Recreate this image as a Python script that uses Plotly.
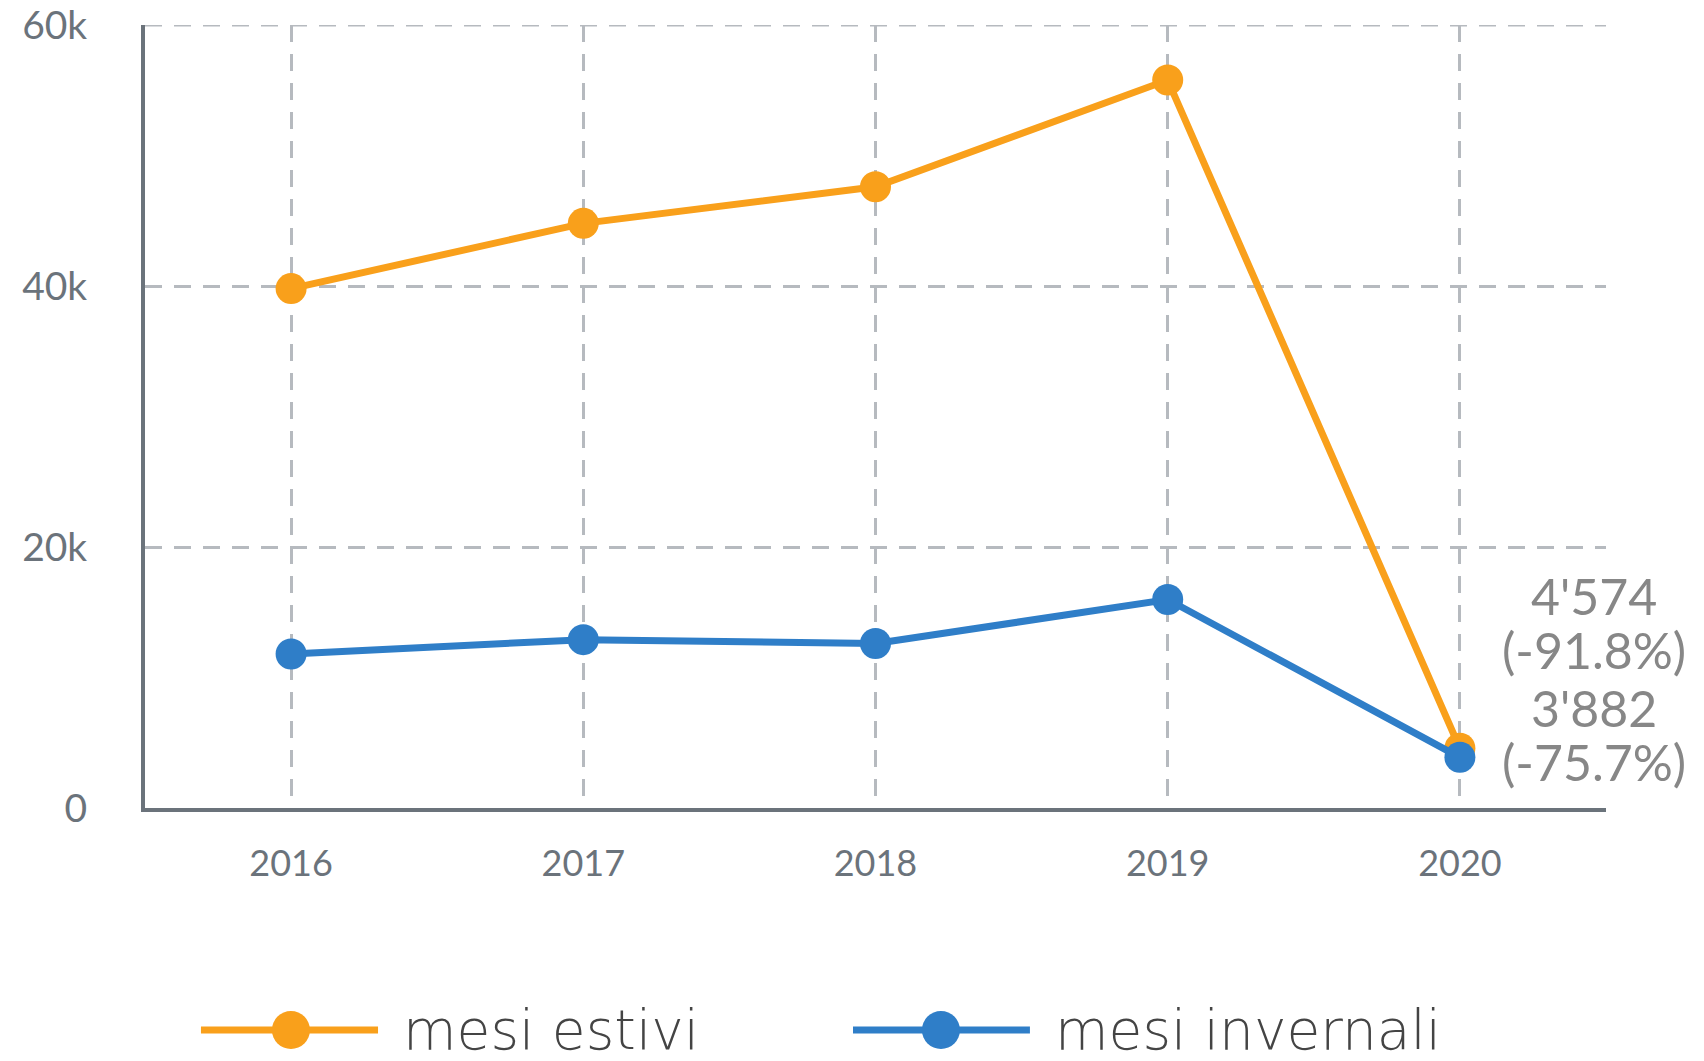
import plotly.graph_objects as go

years = [2016, 2017, 2018, 2019, 2020]
estivi = [39800, 44800, 47600, 55780, 4574]
invernali = [11800, 12900, 12600, 15975, 3882]
series_names = ["mesi estivi", "mesi invernali"]
colors = ["#F9A01B", "#2F7EC8"]
y_ticks = [0, 20000, 40000, 60000]

FONT = "Lato, 'Open Sans', sans-serif"
LEG_FONT = "'DejaVu Sans', sans-serif"
GRID = "#B6BABF"
AXIS = "#6B737B"

fig = go.Figure()
for name, vals, col in zip(series_names, [estivi, invernali], colors):
    fig.add_trace(go.Scatter(
        x=years, y=vals, name=name, mode="lines+markers",
        line=dict(color=col, width=7),
        marker=dict(color=col, size=31),
        showlegend=False,
    ))

def fmt(v):
    return f"{v:,}".replace(",", "'")

# end-of-line labels: value and change vs previous year
for vals, shifts in zip([estivi, invernali], [(152, 98), (49, -5)]):
    pct = (vals[-1] - vals[-2]) / vals[-2] * 100
    for txt, ysh in zip([fmt(vals[-1]), f"({pct:.1f}%)"], shifts):
        fig.add_annotation(
            x=years[-1], y=vals[-1], xref="x", yref="y",
            text=txt, showarrow=False, xanchor="center", yanchor="middle",
            xshift=134, yshift=ysh,
            font=dict(family=FONT, size=50, color="#878787"),
        )

# top gridline at the range maximum
fig.add_shape(type="line", xref="paper", yref="y", x0=0, x1=1, y0=y_ticks[-1], y1=y_ticks[-1],
              line=dict(color=GRID, width=3, dash="17px,12px"), layer="below")

# Legend drawn below the chart
leg_y = -0.2835
leg_items = [(0.0383, 0.1595, 0.0999, 0.1752), (0.4846, 0.6057, 0.5448, 0.6215)]
for (x0, x1, xm, xt), name, col in zip(leg_items, series_names, colors):
    fig.add_shape(type="line", xref="paper", yref="paper", x0=x0, x1=x1, y0=leg_y, y1=leg_y,
                  line=dict(color=col, width=7))
    fig.add_shape(type="circle", xref="paper", yref="paper",
                  x0=xm - 19 / 1461, x1=xm + 19 / 1461, y0=leg_y - 19 / 783, y1=leg_y + 19 / 783,
                  fillcolor=col, line=dict(color=col, width=0))
    fig.add_annotation(x=xt, y=leg_y, xref="paper", yref="paper", text=name, showarrow=False,
                       xanchor="left", yanchor="middle",
                       font=dict(family=LEG_FONT, size=55, color="#444444", weight=300))

fig.update_layout(
    width=1688, height=1045,
    margin=dict(l=137, r=90, t=17, b=245, autoexpand=False),
    paper_bgcolor="white", plot_bgcolor="white",
    font=dict(family=FONT, color=AXIS),
    showlegend=False,
)
fig.update_xaxes(
    range=[2015.5, 2020.5], tickvals=years, ticktext=[str(y) for y in years],
    showgrid=True, gridcolor=GRID, gridwidth=3, griddash="17px,12px",
    showline=True, linecolor=AXIS, linewidth=4,
    ticks="", ticklabelstandoff=21,
    tickfont=dict(family=FONT, size=36, color=AXIS), zeroline=False,
)
fig.update_yaxes(
    range=[0, 60000], tickvals=y_ticks, tickformat="~s",
    showgrid=True, gridcolor=GRID, gridwidth=3, griddash="17px,12px",
    showline=True, linecolor=AXIS, linewidth=4,
    ticks="", ticklabelstandoff=46, ticklabeloverflow="allow",
    tickfont=dict(family=FONT, size=39, color=AXIS), zeroline=False,
)

fig.write_html("out.html")
